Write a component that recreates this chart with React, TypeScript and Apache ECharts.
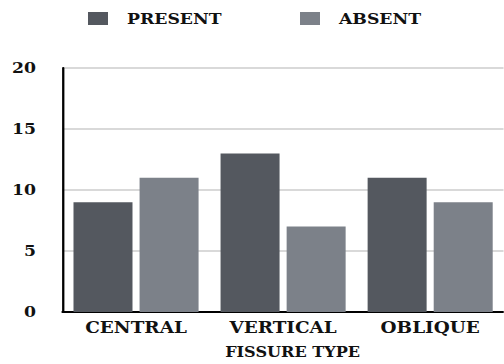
import React, { useEffect, useRef } from "react";
import * as echarts from "echarts";

const categories = ["CENTRAL", "VERTICAL", "OBLIQUE"];
const presentValues = [9, 13, 11];
const absentValues = [11, 7, 9];
const seriesNames = ["PRESENT", "ABSENT"];
const yTicks = { min: 0, max: 20, interval: 5 };
const xAxisTitle = "FISSURE TYPE";

const S = 1.15; // horizontal stretch of the reference
const W = 504 / S;
const H = 364;
const FONT = "DejaVu Serif";
const TEXT = "#111111";
const DARK = "#54585f";
const LIGHT = "#7c8189";

export default function App() {
  const ref = useRef<HTMLDivElement>(null);
  useEffect(() => {
    if (!ref.current) return;
    const chart = echarts.init(ref.current, null, { renderer: "svg" });
    const legendBase = {
      top: 11,
      padding: 0,
      itemWidth: 20 / S,
      itemHeight: 13,
      icon: "rect",
      textStyle: {
        fontFamily: FONT,
        fontWeight: "bold" as const,
        fontSize: 15,
        color: TEXT,
        padding: [0, 0, 0, 11.5],
      },
    };
    chart.setOption({
      animation: false,
      textStyle: { fontFamily: FONT },
      legend: [
        { ...legendBase, left: 88 / S, data: [seriesNames[0]] },
        { ...legendBase, left: 300 / S, data: [seriesNames[1]] },
      ],
      grid: { left: 62.5 / S, top: 68, width: 450 / S, height: 248, containLabel: false },
      xAxis: {
        type: "category",
        data: categories,
        axisLine: { show: true, lineStyle: { color: "#000", width: 2 } },
        axisTick: { show: false },
        axisLabel: {
          margin: 7,
          fontFamily: FONT,
          fontWeight: "bold",
          fontSize: 16,
          color: TEXT,
          interval: 0,
        },
        name: xAxisTitle,
        nameLocation: "middle",
        nameGap: 33,
        nameTextStyle: {
          fontFamily: FONT,
          fontWeight: "bold",
          fontSize: 14,
          color: TEXT,
          padding: [0, 0, 0, 16.6],
        },
      },
      yAxis: {
        type: "value",
        min: yTicks.min,
        max: yTicks.max,
        interval: yTicks.interval,
        axisLine: { show: true, lineStyle: { color: "#000", width: 2 } },
        axisTick: { show: false },
        splitLine: { show: true, lineStyle: { color: "#cccccc", width: 1.5 } },
        axisLabel: {
          margin: 23,
          fontFamily: FONT,
          fontWeight: "bold",
          fontSize: 15,
          color: TEXT,
        },
      },
      series: [
        {
          name: seriesNames[0],
          type: "bar",
          data: presentValues,
          barWidth: 59 / S,
          barGap: "12%",
          itemStyle: { color: DARK },
        },
        {
          name: seriesNames[1],
          type: "bar",
          data: absentValues,
          barWidth: 59 / S,
          barGap: "12%",
          itemStyle: { color: LIGHT },
        },
      ],
    });
    return () => chart.dispose();
  }, []);
  return (
    <div
      style={{
        position: "fixed",
        left: 0,
        top: 0,
        width: 504,
        height: H,
        overflow: "hidden",
        background: "#fff",
      }}
    >
      <div
        ref={ref}
        style={{
          position: "absolute",
          left: 0,
          top: 0,
          width: W,
          height: H,
          overflow: "hidden",
          transform: `scaleX(${S})`,
          transformOrigin: "0 0",
        }}
      />
    </div>
  );
}
